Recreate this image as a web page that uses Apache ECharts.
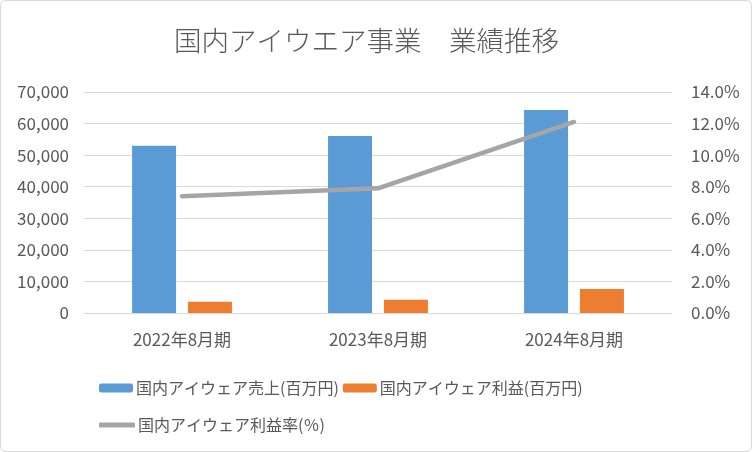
<!DOCTYPE html>
<html>
<head>
  <meta charset="utf8">
  <script src="https://cdn.jsdelivr.net/npm/echarts@6/dist/echarts.min.js"></script>
  <style>
    body { margin: 0; background: #fff; }
    #main { width: 750px; height: 450px; border: 1px solid #d9d9d9; border-radius: 6px; }
  </style>
</head>
<body>
<div id="main"></div>
<script type="text/javascript">
    // data
    var periods = ['2022年8月期', '2023年8月期', '2024年8月期'];
    var sales = [53000, 56100, 64300];      // 売上(百万円)
    var profit = [3600, 4200, 7600];        // 利益(百万円)
    var margin = [7.4, 7.9, 12.1];          // 利益率(%)
    var names = ['国内アイウェア売上(百万円)', '国内アイウェア利益(百万円)', '国内アイウェア利益率(％)'];

    var font = '"Noto Sans CJK JP", "Noto Sans", sans-serif';
    var grey = '#595959';

    var myChart = echarts.init(document.getElementById('main'));
    var option = {
        textStyle: { fontFamily: font },
        title: {
            text: '国内アイウエア事業　業績推移',
            left: 168,
            top: 21,
            textStyle: { fontSize: 27.5, fontWeight: 300, color: grey, fontFamily: font }
        },
        legend: [
            {
                data: [names[0], names[1]],
                left: 93, top: 374,
                itemWidth: 34, itemHeight: 9, itemGap: 4,
                textStyle: { fontSize: 16, color: grey, padding: [0, 0, 0, -2] }
            },
            {
                data: [{ name: names[2], icon: 'roundRect' }],
                left: 93, top: 411,
                itemWidth: 36, itemHeight: 5,
                textStyle: { fontSize: 16, color: grey, padding: [0, 0, 0, -2] }
            }
        ],
        grid: { left: 83, right: 79, top: 91, bottom: 138 },
        xAxis: {
            type: 'category',
            data: periods,
            axisLine: { lineStyle: { color: '#d9d9d9' } },
            axisTick: { show: false },
            axisLabel: { color: grey, fontSize: 17, margin: 18 }
        },
        yAxis: [
            {
                type: 'value', min: 0, max: 70000, interval: 10000,
                axisLine: { show: false }, axisTick: { show: false },
                splitLine: { lineStyle: { color: '#d9d9d9' } },
                axisLabel: {
                    color: grey, fontSize: 17, margin: 15,
                    formatter: function (v) { return v.toLocaleString('en-US'); }
                }
            },
            {
                type: 'value', min: 0, max: 14, interval: 2,
                axisLine: { show: false }, axisTick: { show: false },
                splitLine: { show: false },
                axisLabel: {
                    color: grey, fontSize: 17, margin: 19,
                    formatter: function (v) { return v.toFixed(1) + '%'; }
                }
            }
        ],
        series: [
            {
                name: names[0], type: 'bar', data: sales,
                barWidth: 44, barGap: '27%',
                itemStyle: { color: '#5b9bd5' }
            },
            {
                name: names[1], type: 'bar', data: profit,
                barWidth: 44,
                itemStyle: { color: '#ed7d31' }
            },
            {
                name: names[2], type: 'line', data: margin,
                yAxisIndex: 1,
                showSymbol: false, symbol: 'none',
                lineStyle: { color: '#a5a5a5', width: 4.5, cap: 'round' },
                itemStyle: { color: '#a5a5a5' }
            }
        ]
    };
    myChart.setOption(option);
</script>
</body>
</html>
